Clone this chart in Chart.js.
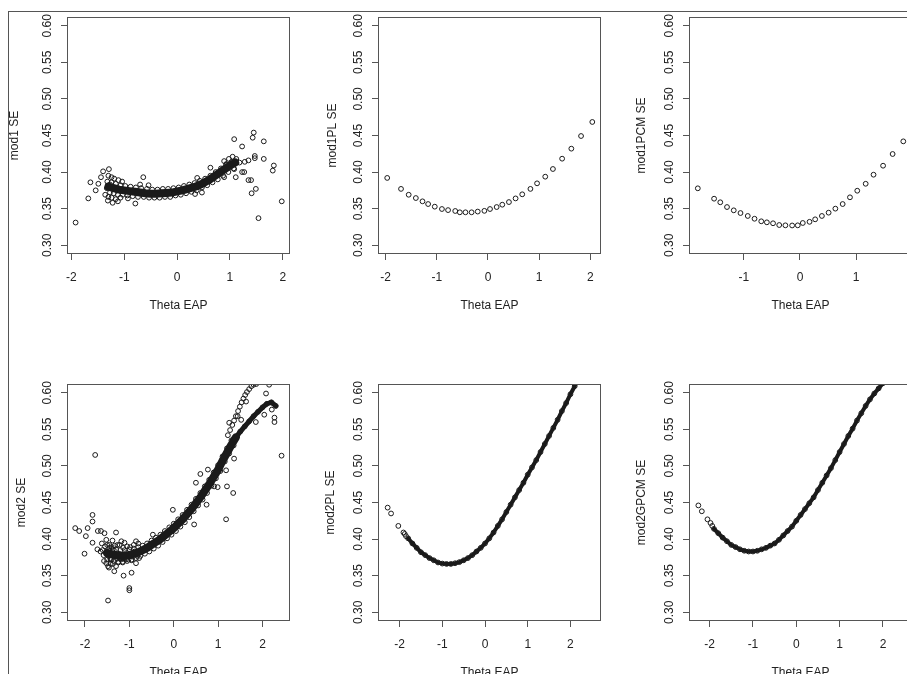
<!DOCTYPE html>
<html>
<head>
<meta charset="utf-8">
<script src="https://cdn.jsdelivr.net/npm/chart.js@4.4.1/dist/chart.umd.min.js"></script>
<style>
  html, body { margin: 0; padding: 0; background: #fff; width: 907px; height: 674px; overflow: hidden; }
  #frame { position: absolute; left: 8px; top: 11px; width: 1000px; height: 1000px;
           border-top: 1px solid #555; border-left: 1px solid #555; }
  canvas { position: absolute; }
</style>
</head>
<body>
<div id="frame"></div>
<script>
// ---- axis ticks and titles ----
const yTicks = [0.30, 0.35, 0.40, 0.45, 0.50, 0.55, 0.60];
const xTicksWide = [-2, -1, 0, 1, 2];
const xTicksNarrow = [-1, 0, 1];
const yTitles = ['mod1 SE', 'mod1PL SE', 'mod1PCM SE', 'mod2 SE', 'mod2PL SE', 'mod2GPCM SE'];
const xTitle = 'Theta EAP';

// ---- mod1 (EAP vs SE), dense band + scatter ----
const mod1Band = [[-1.3,0.380],[-1.2,0.378],[-1.1,0.376],[-1.0,0.375],[-0.9,0.374],[-0.8,0.373],[-0.7,0.372],
  [-0.6,0.371],[-0.5,0.3705],[-0.4,0.3705],[-0.3,0.371],[-0.2,0.3715],[-0.1,0.372],[0.0,0.3735],[0.1,0.375],
  [0.2,0.377],[0.3,0.379],[0.4,0.3815],[0.5,0.385],[0.6,0.389],[0.7,0.394],[0.8,0.399],[0.9,0.404],[1.0,0.409],[1.1,0.413]];
const mod1Edge = [[-1.32,0.387],[-1.27,0.372],[-1.24,0.386],[-1.2,0.371],[-1.16,0.384],[-1.12,0.369],[-1.07,0.382],
  [-1.03,0.369],[-0.98,0.381],[-0.94,0.368],[-0.88,0.380],[-0.84,0.367],[-0.78,0.379],[-0.74,0.366],[-0.68,0.378],
  [-0.63,0.366],[-0.57,0.377],[-0.53,0.365],[-0.47,0.376],[-0.43,0.365],[-0.37,0.376],[-0.33,0.365],[-0.27,0.377],
  [-0.23,0.366],[-0.17,0.377],[-0.13,0.366],[-0.07,0.378],[-0.03,0.368],[0.03,0.379],[0.07,0.369],[0.13,0.381],
  [0.17,0.371],[0.23,0.383],[0.27,0.373],[0.33,0.385],[0.37,0.375],[0.43,0.388],[0.47,0.379],[0.53,0.391],
  [0.57,0.382],[0.63,0.395],[0.67,0.386],[0.73,0.400],[0.77,0.390],[0.83,0.405],[0.87,0.395],[0.93,0.410],
  [0.97,0.400],[1.03,0.414],[1.07,0.405],[1.12,0.418]];
const mod1Scatter = [[-1.92,0.331],[-1.68,0.364],[-1.64,0.386],[-1.54,0.375],[-1.49,0.384],[-1.44,0.393],[-1.40,0.401],
  [-1.29,0.404],[-1.24,0.393],[-1.36,0.369],[-1.31,0.361],[-1.22,0.358],[-1.12,0.360],[-0.79,0.357],[-0.64,0.393],
  [-0.54,0.382],[-0.93,0.364],[-1.33,0.378],[-1.30,0.395],[-1.27,0.383],[-1.24,0.365],[-1.19,0.391],[-1.16,0.363],
  [-1.11,0.389],[-1.07,0.365],[-1.04,0.387],[-1.30,0.366],[-0.70,0.383],[0.34,0.370],[0.47,0.372],[0.38,0.392],
  [0.63,0.406],[0.89,0.393],[0.89,0.415],[1.08,0.445],[1.11,0.393],[1.23,0.435],[1.23,0.400],[1.28,0.414],
  [1.35,0.416],[1.35,0.389],[1.40,0.389],[1.41,0.371],[1.49,0.377],[1.43,0.447],[1.45,0.454],[1.47,0.422],
  [1.47,0.419],[1.64,0.442],[1.64,0.418],[1.54,0.337],[1.83,0.409],[1.81,0.402],[1.98,0.360],[0.98,0.418],
  [1.05,0.421],[0.93,0.411],[1.18,0.413],[1.27,0.400],[1.08,0.404]];

// ---- mod1PL and mod1PCM ----
const mod1PL = [[-1.97,0.392],[-1.70,0.377],[-1.55,0.369],[-1.41,0.3645],[-1.28,0.360],[-1.17,0.3563],[-1.04,0.3527],
  [-0.90,0.3495],[-0.78,0.348],[-0.64,0.3468],[-0.55,0.345],[-0.44,0.345],[-0.32,0.345],[-0.20,0.346],[-0.07,0.347],
  [0.04,0.3495],[0.17,0.3522],[0.28,0.3554],[0.41,0.359],[0.54,0.364],[0.67,0.3696],[0.83,0.377],[0.96,0.3846],
  [1.12,0.3937],[1.27,0.4042],[1.45,0.4183],[1.63,0.432],[1.82,0.4493],[2.04,0.4685]];
const mod1PCM = [[-1.82,0.3778],[-1.53,0.3636],[-1.42,0.3587],[-1.30,0.3522],[-1.18,0.3477],[-1.06,0.344],[-0.93,0.340],
  [-0.81,0.3362],[-0.69,0.3327],[-0.59,0.3313],[-0.48,0.330],[-0.37,0.3276],[-0.26,0.3272],[-0.14,0.327],[-0.04,0.3272],
  [0.05,0.3304],[0.17,0.332],[0.27,0.3354],[0.39,0.340],[0.51,0.3445],[0.63,0.350],[0.76,0.3563],[0.89,0.3655],
  [1.02,0.3745],[1.17,0.384],[1.31,0.3964],[1.48,0.4087],[1.65,0.4247],[1.84,0.442]];

// ---- mod2, band with two branches at the top + scatter ----
const mod2Band = [[-1.5,0.381],[-1.4,0.379],[-1.3,0.378],[-1.2,0.377],[-1.1,0.377],[-1.0,0.378],[-0.9,0.380],
  [-0.8,0.382],[-0.7,0.385],[-0.6,0.388],[-0.5,0.392],[-0.4,0.396],[-0.3,0.400],[-0.2,0.405],[-0.1,0.410],
  [0.0,0.415],[0.1,0.421],[0.2,0.427],[0.3,0.434],[0.4,0.441],[0.5,0.449],[0.6,0.457],[0.7,0.466],[0.8,0.475],
  [0.9,0.485],[1.0,0.495],[1.1,0.507],[1.2,0.518],[1.3,0.529],[1.4,0.539]];
const mod2Lower = [[1.4,0.539],[1.5,0.547],[1.6,0.554],[1.7,0.561],[1.8,0.568],[1.9,0.574],[2.0,0.580],
  [2.1,0.585],[2.2,0.587],[2.3,0.582]];
const mod2Upper = [[1.22,0.542],[1.27,0.549],[1.32,0.556],[1.36,0.562],[1.40,0.568],[1.45,0.575],[1.49,0.581],
  [1.53,0.587],[1.57,0.592],[1.61,0.597],[1.65,0.601],[1.70,0.605],[1.75,0.609],[1.80,0.611],[1.86,0.612]];
const mod2Edge = [[-1.45,0.388],[-1.42,0.372],[-1.38,0.386],[-1.35,0.370],[-1.3,0.386],[-1.25,0.369],[-1.2,0.385],
  [-1.15,0.369],[-1.1,0.385],[-1.05,0.370],[-1.0,0.386],[-0.95,0.372],[-0.9,0.387],[-0.85,0.374],[-0.8,0.389],
  [-0.75,0.377],[-0.7,0.391],[-0.65,0.380],[-0.6,0.394],[-0.55,0.383],[-0.5,0.398],[-0.45,0.387],[-0.4,0.402],
  [-0.35,0.391],[-0.3,0.406],[-0.25,0.396],[-0.2,0.411],[-0.15,0.401],[-0.1,0.416],[-0.05,0.406],[0.0,0.421],
  [0.05,0.411],[0.1,0.427],[0.15,0.417],[0.2,0.433],[0.25,0.423],[0.3,0.440],[0.35,0.430],[0.4,0.447],[0.45,0.438],
  [0.5,0.455],[0.55,0.446],[0.6,0.463],[0.65,0.454],[0.7,0.472],[0.75,0.463],[0.8,0.481],[0.85,0.473],[0.9,0.491],
  [0.95,0.483],[1.0,0.501],[1.05,0.493],[1.1,0.513],[1.15,0.506],[1.2,0.524],[1.25,0.517],[1.3,0.535],[1.35,0.528]];
const mod2Scatter = [[-1.77,0.515],[2.43,0.514],[-2.22,0.415],[-2.13,0.411],[-2.01,0.380],[-1.94,0.415],[-1.83,0.433],
  [-1.83,0.424],[-1.98,0.404],[-1.83,0.395],[-1.71,0.411],[-1.64,0.411],[-1.56,0.408],[-1.72,0.386],[-1.62,0.394],
  [-1.65,0.383],[-1.48,0.363],[-1.34,0.356],[-1.48,0.316],[-1.13,0.350],[-0.95,0.354],[-1.00,0.333],[-1.00,0.330],
  [-1.30,0.409],[-1.18,0.397],[-1.11,0.395],[-0.85,0.397],[-0.80,0.394],[-1.41,0.372],[-1.52,0.367],[-1.30,0.363],
  [-0.47,0.406],[-0.02,0.440],[0.46,0.420],[0.50,0.477],[0.60,0.489],[0.74,0.447],[0.77,0.495],[0.91,0.472],
  [0.99,0.471],[1.20,0.472],[1.18,0.494],[1.18,0.427],[1.34,0.463],[1.36,0.510],[1.25,0.559],[1.44,0.568],
  [1.52,0.563],[1.63,0.588],[2.15,0.611],[2.08,0.599],[2.21,0.577],[2.27,0.566],[2.27,0.560],[1.85,0.560],
  [2.04,0.570],[-1.55,0.390],[-1.50,0.372],[-1.45,0.392],[-1.42,0.366],[-1.38,0.398],[-1.35,0.385],[-1.58,0.378],
  [-1.52,0.399],[-1.46,0.361],[-1.40,0.389],[-1.25,0.368],[-1.22,0.392],[-1.15,0.368],[-1.08,0.372],[-1.05,0.390],
  [-0.95,0.371],[-0.90,0.392],[-0.85,0.367],[-0.78,0.374],[-1.60,0.385],[-1.57,0.370],[-1.53,0.382],[-1.50,0.392],
  [-1.47,0.377],[-1.44,0.384],[-1.43,0.374],[-1.39,0.380],[-1.37,0.366],[-1.33,0.391],[-1.28,0.373],[-1.27,0.392],
  [-1.23,0.380],[-1.19,0.372],[-1.14,0.388],[-1.12,0.373],[-1.06,0.381],[-1.02,0.372],[-0.98,0.389],[-0.92,0.376],
  [-0.88,0.383],[-0.82,0.377]];

// ---- mod2PL and mod2GPCM, smooth dense curves ----
const mod2PLCurve = [[-1.8,0.401],[-1.7,0.394],[-1.6,0.388],[-1.5,0.382],[-1.4,0.378],[-1.3,0.374],[-1.2,0.371],
  [-1.1,0.368],[-1.0,0.3665],[-0.9,0.366],[-0.8,0.366],[-0.7,0.367],[-0.6,0.3685],[-0.5,0.371],[-0.4,0.374],
  [-0.3,0.378],[-0.2,0.383],[-0.1,0.388],[0.0,0.394],[0.1,0.401],[0.2,0.409],[0.3,0.418],[0.4,0.427],[0.5,0.437],
  [0.6,0.447],[0.7,0.457],[0.8,0.467],[0.9,0.477],[1.0,0.488],[1.1,0.498],[1.2,0.508],[1.3,0.519],[1.4,0.530],
  [1.5,0.541],[1.6,0.552],[1.7,0.563],[1.8,0.575],[1.9,0.586],[2.0,0.598],[2.1,0.609],[2.2,0.621]];
const mod2PLTail = [[-2.28,0.443],[-2.20,0.435],[-2.03,0.418],[-1.91,0.409],[-1.88,0.407],[-1.85,0.404]];
const mod2GPCMCurve = [[-1.9,0.414],[-1.8,0.408],[-1.7,0.402],[-1.6,0.397],[-1.5,0.392],[-1.4,0.389],[-1.3,0.386],
  [-1.2,0.384],[-1.1,0.383],[-1.0,0.383],[-0.9,0.384],[-0.8,0.386],[-0.7,0.388],[-0.6,0.391],[-0.5,0.394],
  [-0.4,0.399],[-0.3,0.405],[-0.2,0.411],[-0.1,0.417],[0.0,0.425],[0.1,0.433],[0.2,0.441],[0.3,0.449],[0.4,0.457],
  [0.5,0.467],[0.6,0.477],[0.7,0.487],[0.8,0.497],[0.9,0.508],[1.0,0.519],[1.1,0.530],[1.2,0.541],[1.3,0.551],
  [1.4,0.562],[1.5,0.572],[1.6,0.582],[1.7,0.591],[1.8,0.599],[1.9,0.606],[2.0,0.613],[2.1,0.620]];
const mod2GPCMTail = [[-2.26,0.446],[-2.18,0.438],[-2.05,0.427],[-1.98,0.422],[-1.94,0.418]];

// ---- drawing ----
Chart.defaults.font.family = '"Liberation Sans", Arial, sans-serif';
Chart.defaults.font.size = 12;
Chart.defaults.color = '#222';
const ink = '#1a1a1a';
const axisGrey = '#555';

function pts(arr) { return arr.map(p => ({ x: p[0], y: p[1] })); }

function circles(arr) {
  return { data: pts(arr), showLine: false, pointRadius: 2.4, pointBorderWidth: 1,
           pointBorderColor: ink, pointBackgroundColor: 'rgba(0,0,0,0)', clip: 0 };
}
function band(arr, w) {
  return { data: pts(arr), showLine: true, borderColor: ink, borderWidth: w, borderCapStyle: 'round',
           borderJoinStyle: 'round', pointRadius: 2.4, pointBorderWidth: 1, pointBorderColor: ink,
           pointBackgroundColor: 'rgba(0,0,0,0)', clip: 0 };
}

// R-style box around the plot region
const boxPlugin = {
  id: 'rbox',
  afterDatasetsDraw(chart) {
    const a = chart.chartArea, ctx = chart.ctx;
    ctx.save();
    ctx.strokeStyle = axisGrey;
    ctx.lineWidth = 1;
    ctx.strokeRect(a.left + 0.5, a.top + 0.5, a.right - a.left - 1, a.bottom - a.top - 1);
    ctx.restore();
  }
};

const Y_AXIS_W = 62, X_AXIS_H = 60, PAD_TOP = 6, PAD_RIGHT = 5;
const BOX_W = 223, BOX_H = 237;

const panels = [
  { left: 67,  top: 17,  xMin: -2.083, xMax: 2.136, xTicks: xTicksWide,   title: yTitles[0], gap: 52,
    sets: [band(mod1Band, 8), circles(mod1Edge), circles(mod1Scatter)] },
  { left: 378, top: 17,  xMin: -2.15,  xMax: 2.21,  xTicks: xTicksWide,   title: yTitles[1], gap: 45,
    sets: [circles(mod1PL)] },
  { left: 689, top: 17,  xMin: -1.977, xMax: 1.995, xTicks: xTicksNarrow, title: yTitles[2], gap: 47,
    sets: [circles(mod1PCM)] },
  { left: 67,  top: 384, xMin: -2.405, xMax: 2.62,  xTicks: xTicksWide,   title: yTitles[3], gap: 45,
    sets: [band(mod2Band, 8), band(mod2Lower, 5), circles(mod2Upper), circles(mod2Edge), circles(mod2Scatter)] },
  { left: 378, top: 384, xMin: -2.506, xMax: 2.716, xTicks: xTicksWide,   title: yTitles[4], gap: 47,
    sets: [band(mod2PLCurve, 4), circles(mod2PLTail)] },
  { left: 689, top: 384, xMin: -2.476, xMax: 2.67,  xTicks: xTicksWide,   title: yTitles[5], gap: 47,
    sets: [band(mod2GPCMCurve, 4), circles(mod2GPCMTail)] }
];

function noPad(s) { s.paddingLeft = 0; s.paddingRight = 0; s.paddingTop = 0; s.paddingBottom = 0; }

panels.forEach(p => {
  const cv = document.createElement('canvas');
  cv.width = Y_AXIS_W + BOX_W + PAD_RIGHT;
  cv.height = PAD_TOP + BOX_H + X_AXIS_H;
  cv.style.left = (p.left - Y_AXIS_W) + 'px';
  cv.style.top = (p.top - PAD_TOP) + 'px';
  document.body.appendChild(cv);

  const tickGrid = { drawOnChartArea: false, drawTicks: true, tickLength: 6, color: axisGrey, lineWidth: 1 };

  new Chart(cv, {
    type: 'scatter',
    data: { datasets: p.sets },
    options: {
      responsive: false,
      animation: false,
      events: [],
      layout: { padding: { top: PAD_TOP, right: PAD_RIGHT, left: 0, bottom: 0 } },
      plugins: { legend: { display: false }, tooltip: { enabled: false } },
      scales: {
        x: {
          type: 'linear', position: 'bottom', min: p.xMin, max: p.xMax,
          afterBuildTicks: s => { s.ticks = p.xTicks.map(v => ({ value: v })); },
          afterFit: s => { s.height = X_AXIS_H; noPad(s); },
          grid: tickGrid,
          border: { display: false },
          ticks: { autoSkip: false, maxRotation: 0, padding: 10, callback: v => String(v) },
          title: { display: true, text: xTitle, padding: { top: 0, bottom: 1.5 } }
        },
        y: {
          type: 'linear', position: 'left', min: 0.288, max: 0.612,
          afterBuildTicks: s => { s.ticks = yTicks.map(v => ({ value: v })); },
          afterFit: s => { s.width = Y_AXIS_W; noPad(s); },
          grid: tickGrid,
          border: { display: false },
          ticks: { autoSkip: false, minRotation: 90, maxRotation: 90, crossAlign: 'center', padding: 2,
                   callback: v => v.toFixed(2) },
          title: { display: true, text: p.title, padding: { top: Y_AXIS_W - 7.2 - p.gap, bottom: 0 } }
        }
      }
    },
    plugins: [boxPlugin]
  });
});
</script>
</body>
</html>
